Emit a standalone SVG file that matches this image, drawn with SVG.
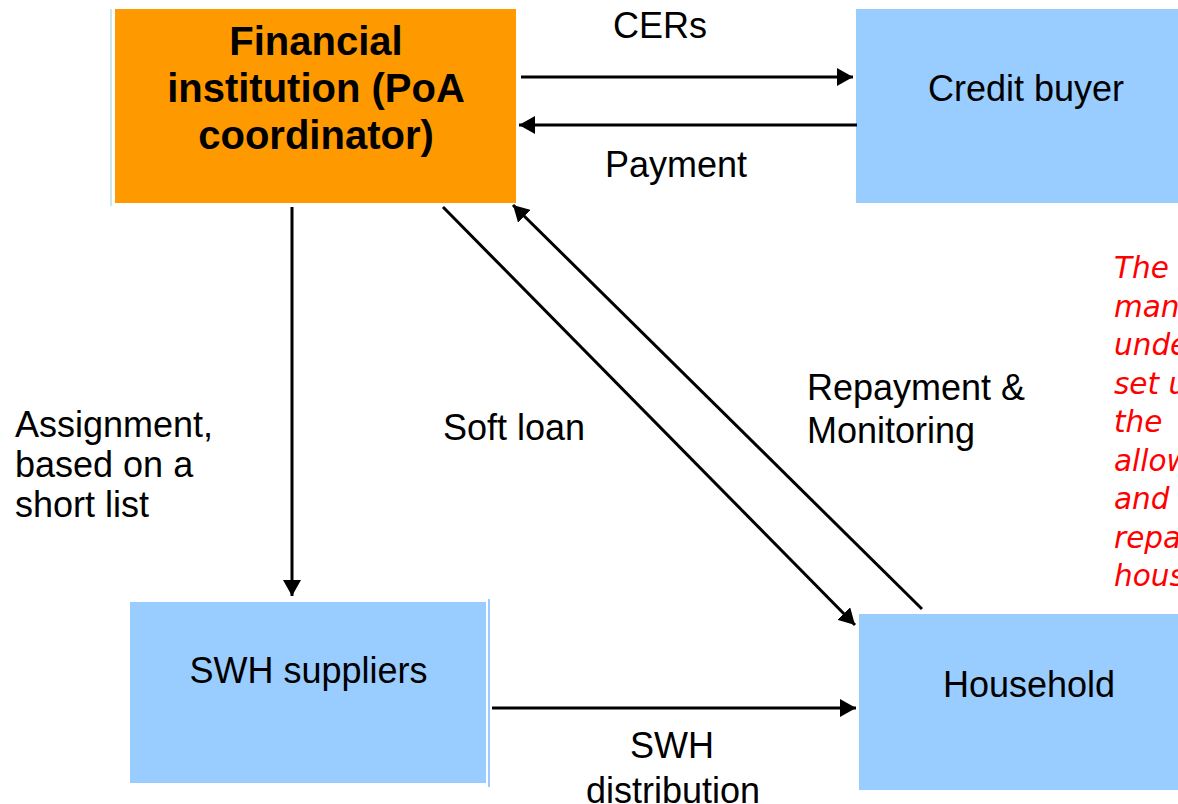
<svg xmlns="http://www.w3.org/2000/svg" width="1178" height="804" viewBox="0 0 1178 804">
  <style>
    .lbl { font-family: "Liberation Sans", Arial, sans-serif; font-size: 36px; fill: #000; }
    .ttl { font-family: "Liberation Sans", Arial, sans-serif; font-size: 40px; font-weight: bold; fill: #000; }
    .note { font-family: "DejaVu Sans", Verdana, sans-serif; font-size: 29.5px; font-style: italic; fill: #FF0000; }
    .blue { fill: #99CCFF; }
    .conn { stroke: #000; stroke-width: 3; fill: none; marker-end: url(#arr); }
  </style>
  <defs>
    <marker id="arr" markerUnits="userSpaceOnUse" markerWidth="17" markerHeight="18" refX="16" refY="9" orient="auto">
      <path d="M0,0 L16,9 L0,18 Z" fill="#000"/>
    </marker>
  </defs>
  <rect width="1178" height="804" fill="#fff"/>

  <g id="financial-institution">
    <line x1="111" y1="9" x2="111" y2="206" stroke="#cfe6ee" stroke-width="2"/>
    <rect x="115" y="9" width="401" height="194" fill="#FF9900"/>
    <text class="ttl" text-anchor="middle" x="316" y="55">Financial</text>
    <text class="ttl" text-anchor="middle" x="316" y="102">institution (PoA</text>
    <text class="ttl" text-anchor="middle" x="316" y="149">coordinator)</text>
  </g>

  <g id="credit-buyer">
    <rect class="blue" x="856" y="9" width="322" height="194"/>
    <text class="lbl" x="928" y="101">Credit buyer</text>
  </g>

  <g id="swh-suppliers">
    <rect class="blue" x="130" y="602" width="356" height="181"/>
    <line x1="489" y1="599" x2="489" y2="787" stroke="#99CCFF" stroke-width="2"/>
    <text class="lbl" text-anchor="middle" x="308.5" y="683">SWH suppliers</text>
  </g>

  <g id="household">
    <rect class="blue" x="859" y="614" width="319" height="176"/>
    <text class="lbl" x="943" y="697">Household</text>
  </g>

  <g id="connectors">
    <line class="conn" x1="521" y1="77" x2="853" y2="77"/>
    <line class="conn" x1="857" y1="125" x2="519" y2="125"/>
    <line class="conn" x1="292" y1="207" x2="292" y2="596"/>
    <line class="conn" x1="443" y1="207" x2="855" y2="625"/>
    <line class="conn" x1="922" y1="609" x2="513" y2="205"/>
    <line class="conn" x1="492" y1="708" x2="856" y2="708"/>
  </g>

  <g id="connector-labels">
    <text class="lbl" text-anchor="middle" x="660" y="38">CERs</text>
    <text class="lbl" text-anchor="middle" x="676" y="177">Payment</text>
    <text class="lbl" x="15" y="437">Assignment,</text>
    <text class="lbl" x="15" y="477">based on a</text>
    <text class="lbl" x="15" y="517">short list</text>
    <text class="lbl" x="443" y="440">Soft loan</text>
    <text class="lbl" x="807" y="400">Repayment &amp;</text>
    <text class="lbl" x="807" y="443">Monitoring</text>
    <text class="lbl" text-anchor="middle" x="672" y="758">SWH</text>
    <text class="lbl" text-anchor="middle" x="673" y="803">distribution</text>
  </g>

  <g id="note">
    <text class="note" x="1114" y="278">The</text>
    <text class="note" x="1114" y="316.5">man</text>
    <text class="note" x="1114" y="355">unde</text>
    <text class="note" x="1114" y="393.5">set u</text>
    <text class="note" x="1114" y="432">the</text>
    <text class="note" x="1114" y="470.5">allow</text>
    <text class="note" x="1114" y="509">and</text>
    <text class="note" x="1114" y="547.5">repa</text>
    <text class="note" x="1114" y="586">hous</text>
  </g>
</svg>
